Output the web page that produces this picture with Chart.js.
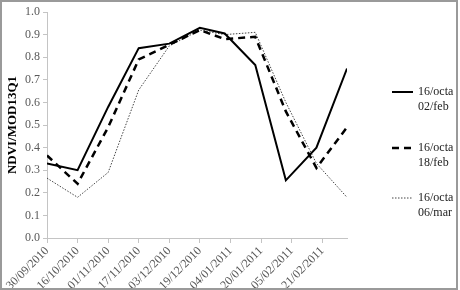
<!DOCTYPE html>
<html>
<head>
<meta charset="utf-8">
<script src="https://cdn.jsdelivr.net/npm/chart.js@4"></script>
<style>
  html, body { margin: 0; padding: 0; background: #fff; }
  #wrap { width: 460px; height: 290px; position: relative; }
</style>
</head>
<body>
<div id="wrap"><canvas id="c" width="460" height="290"></canvas></div>
<script>
// ---- data ----
const tickLabels = ['30/09/2010','16/10/2010','01/11/2010','17/11/2010','03/12/2010','19/12/2010','04/01/2011','20/01/2011','05/02/2011','21/02/2011'];
const pointDates = ['30/09/2010','16/10/2010','01/11/2010','17/11/2010','03/12/2010','19/12/2010','01/01/2011','17/01/2011','02/02/2011','18/02/2011','06/03/2011'];
const seriesNames = [['16/octa','02/feb'], ['16/octa','18/feb'], ['16/octa','06/mar']];
const feb02 = [0.33, 0.30, 0.58, 0.84, 0.86, 0.93, 0.905, 0.765, 0.255, 0.40, 0.75];
const feb18 = [0.365, 0.24, 0.49, 0.79, 0.855, 0.92, 0.88, 0.89, 0.56, 0.31, 0.49];
const mar06 = [0.265, 0.18, 0.29, 0.655, 0.85, 0.92, 0.90, 0.91, 0.60, 0.33, 0.18];
const yTitle = 'NDVI/MOD13Q1';

// ---- helpers ----
function parseDate(s) { const [d, m, y] = s.split('/').map(Number); return Date.UTC(y, m - 1, d); }
const origin = parseDate(tickLabels[0]);
const dayOf = s => Math.round((parseDate(s) - origin) / 86400000);
const tickDays = tickLabels.map(dayOf);
const pts = vals => vals.map((v, i) => ({ x: dayOf(pointDates[i]), y: v }));
const lastDay = dayOf(pointDates[pointDates.length - 1]);

const FONT = '"Liberation Serif", "Times New Roman", serif';
const AXIS = '#c4c4c4';
const TICKC = '#595959';

const styles = [
  { borderColor: '#000', borderWidth: 2, borderDash: [] },
  { borderColor: '#000', borderWidth: 2.5, borderDash: [7, 5] },
  { borderColor: '#444', borderWidth: 1, borderDash: [1.5, 1.5] }
];

const legendPlugin = {
  id: 'customLegend',
  afterDraw(chart) {
    const ctx = chart.ctx;
    ctx.save();
    // frame
    ctx.strokeStyle = '#9a9a9a';
    ctx.lineWidth = 2;
    ctx.strokeRect(1, 1, 456, 288);
    // legend
    const ys = [92, 148, 198];
    ctx.font = '12px ' + FONT;
    ctx.textBaseline = 'middle';
    ctx.textAlign = 'left';
    ctx.fillStyle = '#222';
    seriesNames.forEach((nm, i) => {
      const st = styles[i];
      ctx.beginPath();
      ctx.strokeStyle = st.borderColor;
      ctx.lineWidth = st.borderWidth;
      ctx.setLineDash(st.borderDash);
      ctx.moveTo(392, ys[i]);
      ctx.lineTo(413, ys[i]);
      ctx.stroke();
      ctx.setLineDash([]);
      ctx.fillText(nm[0], 418, ys[i]);
      ctx.fillText(nm[1], 418, ys[i] + 15);
    });
    ctx.restore();
  }
};

new Chart(document.getElementById('c'), {
  type: 'line',
  data: {
    datasets: [feb02, feb18, mar06].map((vals, i) => ({
      label: seriesNames[i].join(' '),
      data: pts(vals),
      borderColor: styles[i].borderColor,
      borderWidth: styles[i].borderWidth,
      borderDash: styles[i].borderDash,
      pointRadius: 0,
      tension: 0,
      fill: false
    }))
  },
  options: {
    responsive: false,
    animation: false,
    devicePixelRatio: 1,
    layout: { padding: { left: 2, right: 113, top: 12, bottom: 0 } },
    plugins: { legend: { display: false }, tooltip: { enabled: false } },
    scales: {
      x: {
        type: 'linear',
        min: 0,
        max: lastDay,
        afterBuildTicks: axis => { axis.ticks = tickDays.map(v => ({ value: v })); },
        afterFit: axis => { axis.height = 52; },
        grid: { display: true, drawOnChartArea: false, drawTicks: true, tickLength: 5, color: AXIS },
        border: { display: true, color: AXIS, width: 1 },
        ticks: {
          autoSkip: false,
          maxRotation: 45,
          minRotation: 45,
          padding: 1,
          color: TICKC,
          font: { family: FONT, size: 12 },
          callback: v => { const i = tickDays.indexOf(v); return i >= 0 ? tickLabels[i] : ''; }
        }
      },
      y: {
        min: 0,
        max: 1,
        afterFit: axis => { axis.width = 45; },
        grid: { display: true, drawOnChartArea: false, drawTicks: true, tickLength: 4, color: AXIS },
        border: { display: true, color: AXIS, width: 1 },
        ticks: {
          stepSize: 0.1,
          padding: 3,
          color: TICKC,
          font: { family: FONT, size: 12 },
          callback: v => Number(v).toFixed(1)
        },
        title: {
          display: true,
          text: yTitle,
          color: '#000',
          padding: { top: 3, bottom: 0 },
          font: { family: FONT, size: 13, weight: 'bold' }
        }
      }
    }
  },
  plugins: [legendPlugin]
});
</script>
</body>
</html>
